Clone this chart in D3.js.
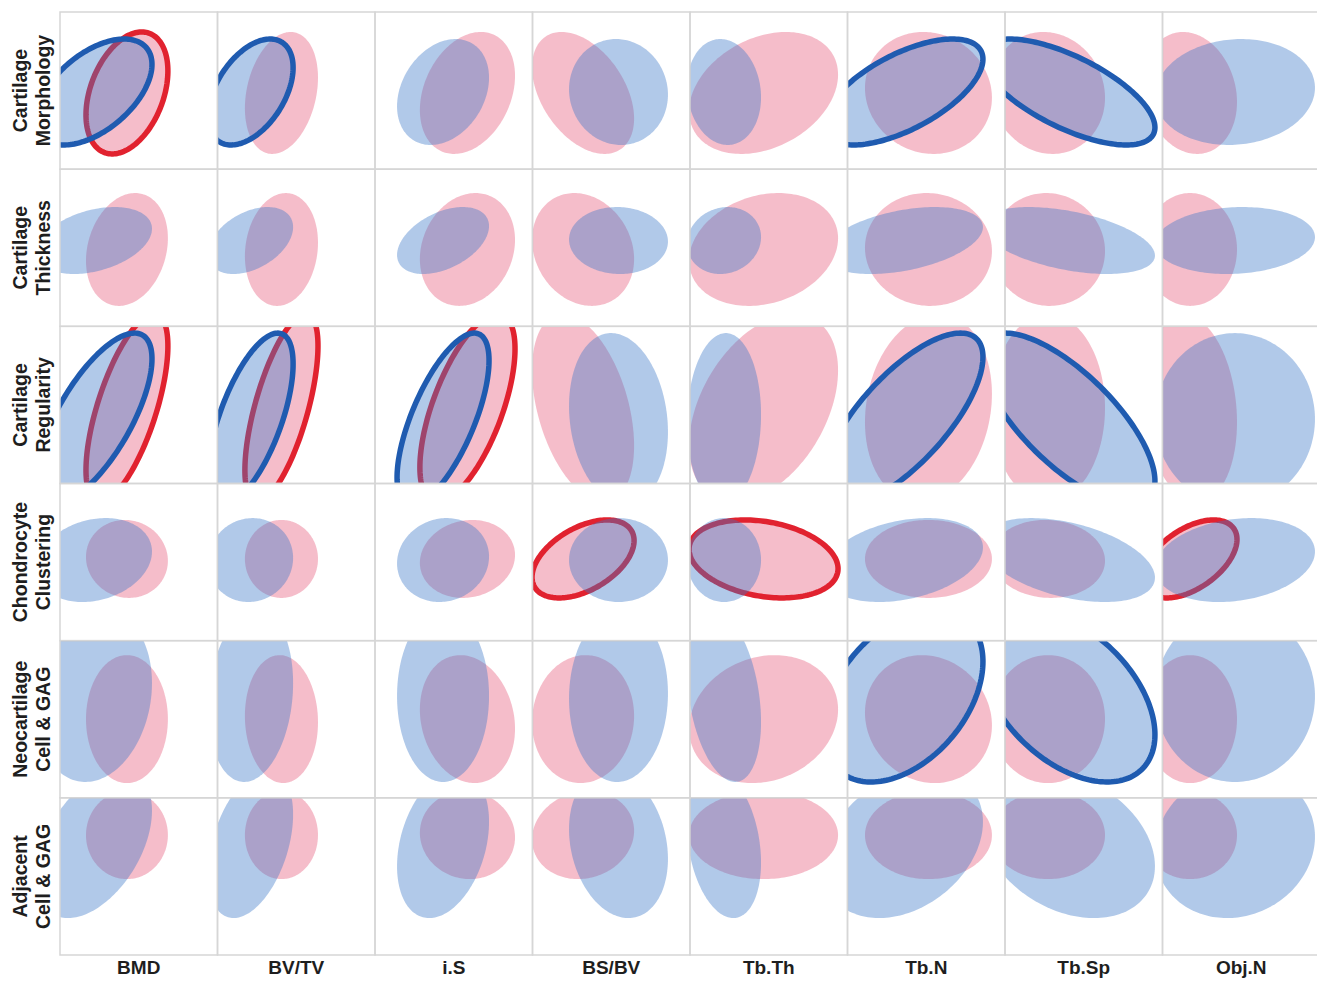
<!DOCTYPE html>
<html>
<head>
<meta charset="utf-8">
<script src="https://cdn.jsdelivr.net/npm/d3@7"></script>
<style>
  body { margin: 0; background: #fff; }
  text { font-family: "Liberation Sans", Arial, sans-serif; font-weight: bold; fill: #1e1e1e; }
</style>
</head>
<body>
<div id="graph"></div>
<script>
// bone parameters (columns) and cartilage measures (rows)
const colNames = ["BMD", "BV/TV", "i.S", "BS/BV", "Tb.Th", "Tb.N", "Tb.Sp", "Obj.N"];
const rowNames = [["Cartilage", "Morphology"], ["Cartilage", "Thickness"], ["Cartilage", "Regularity"],
                  ["Chondrocyte", "Clustering"], ["Neocartilage", "Cell & GAG"], ["Adjacent", "Cell & GAG"]];

// group centre and spread of each bone parameter (normalised 0-1 axis)
const pinkXMean = [0.425, 0.406, 0.587, 0.321, 0.467, 0.514, 0.273, 0.175];
const pinkXSpread = [0.260, 0.232, 0.302, 0.324, 0.473, 0.403, 0.362, 0.298];
const blueXMean = [0.216, 0.210, 0.432, 0.546, 0.216, 0.352, 0.400, 0.460];
const blueXSpread = [0.368, 0.270, 0.292, 0.314, 0.235, 0.508, 0.552, 0.508];

// group centre and spread of each cartilage measure
const pinkYMean = [0.485, 0.489, 0.480, 0.520, 0.501, 0.763];
const pinkYSpread = [0.388, 0.359, 0.598, 0.248, 0.407, 0.280];
const blueYMean = [0.491, 0.546, 0.410, 0.513, 0.648, 0.706];
const blueYSpread = [0.337, 0.213, 0.547, 0.267, 0.547, 0.471];

// correlation of each pair, per group (rows x columns)
const pinkCorr = [
  [0.36, 0.25, 0.28, -0.42, 0.30, -0.08, -0.08, -0.15],
  [0.20, 0.12, 0.17, -0.17, 0.20, -0.03, -0.03, 0.00],
  [0.66, 0.66, 0.63, -0.40, 0.40, 0.15, 0.00, -0.15],
  [-0.05, 0.00, 0.10, 0.47, -0.25, 0.00, -0.05, 0.50],
  [0.00, -0.05, -0.15, 0.05, 0.15, -0.10, 0.00, 0.00],
  [0.00, 0.00, -0.05, 0.10, 0.00, 0.00, 0.00, 0.00]
];
const blueCorr = [
  [0.52, 0.46, 0.27, -0.05, -0.10, 0.62, -0.67, 0.08],
  [0.35, 0.40, 0.43, -0.03, 0.10, 0.40, -0.45, 0.10],
  [0.70, 0.64, 0.68, -0.15, 0.05, 0.72, -0.72, 0.00],
  [0.20, 0.05, 0.08, 0.00, 0.00, 0.30, -0.42, 0.20],
  [0.15, 0.15, 0.00, 0.03, -0.30, 0.40, -0.45, 0.00],
  [0.45, 0.40, 0.30, -0.20, -0.25, 0.30, -0.30, 0.10]
];

// significant correlations (outlined)
const pinkSig = [
  [1, 0, 0, 0, 0, 0, 0, 0],
  [0, 0, 0, 0, 0, 0, 0, 0],
  [1, 1, 1, 0, 0, 0, 0, 0],
  [0, 0, 0, 1, 1, 0, 0, 1],
  [0, 0, 0, 0, 0, 0, 0, 0],
  [0, 0, 0, 0, 0, 0, 0, 0]
];
const blueSig = [
  [1, 1, 0, 0, 0, 1, 1, 0],
  [0, 0, 0, 0, 0, 0, 0, 0],
  [1, 1, 1, 0, 0, 1, 1, 0],
  [0, 0, 0, 0, 0, 0, 0, 0],
  [0, 0, 0, 0, 0, 1, 1, 0],
  [0, 0, 0, 0, 0, 0, 0, 0]
];

const width = 1317, height = 982;
const svg = d3.select("#graph").append("svg")
  .attr("width", width).attr("height", height);

const col = d3.scaleBand().domain(d3.range(colNames.length)).range([60, 1320]);
const row = d3.scaleBand().domain(d3.range(rowNames.length)).range([12, 955]);
const pw = col.bandwidth(), ph = row.bandwidth();

const x = d3.scaleLinear().domain([0, 1]).range([0, pw]);
const y = d3.scaleLinear().domain([0, 1]).range([ph, 0]);

const ts = d3.range(0, 2 * Math.PI, Math.PI / 90);
const line = d3.line().x(d => x(d[0])).y(d => y(d[1])).curve(d3.curveLinearClosed);

function ellipse(mx, sx, my, sy, r) {
  const q = Math.sqrt(1 - r * r);
  return line(ts.map(t => [mx + sx * Math.cos(t), my + sy * (r * Math.cos(t) + q * Math.sin(t))]));
}

const defs = svg.append("defs");
defs.append("clipPath").attr("id", "panelclip")
  .append("rect").attr("width", pw).attr("height", ph);

const cells = [];
rowNames.forEach((rn, i) => colNames.forEach((cn, j) => cells.push({i, j})));

const panel = svg.selectAll("g.panel")
  .data(cells)
  .join("g")
    .attr("class", "panel")
    .attr("transform", d => `translate(${col(d.j)},${row(d.i)})`);

const inner = panel.append("g").attr("clip-path", "url(#panelclip)");

// pink group
inner.append("path")
  .attr("d", d => ellipse(pinkXMean[d.j], pinkXSpread[d.j], pinkYMean[d.i], pinkYSpread[d.i], pinkCorr[d.i][d.j]))
  .attr("fill", "#e44b6e")
  .attr("fill-opacity", 0.37)
  .attr("stroke", d => pinkSig[d.i][d.j] ? "#e1222f" : "none")
  .attr("stroke-width", 5.5);

// blue group
inner.append("path")
  .attr("d", d => ellipse(blueXMean[d.j], blueXSpread[d.j], blueYMean[d.i], blueYSpread[d.i], blueCorr[d.i][d.j]))
  .attr("fill", "#3c78c8")
  .attr("fill-opacity", 0.4)
  .attr("stroke", d => blueSig[d.i][d.j] ? "#1f5bb0" : "none")
  .attr("stroke-width", 5.5);

panel.append("rect")
  .attr("width", pw).attr("height", ph)
  .attr("fill", "none")
  .attr("stroke", "#d6d6d6")
  .attr("stroke-width", 1.5);

// column labels
svg.selectAll("text.col")
  .data(colNames)
  .join("text")
    .attr("class", "col")
    .attr("x", (d, j) => col(j) + pw / 2)
    .attr("y", 974)
    .attr("text-anchor", "middle")
    .style("font-size", "19px")
    .text(d => d);

// row labels
const rl = svg.selectAll("text.row")
  .data(rowNames)
  .join("text")
    .attr("class", "row")
    .attr("transform", (d, i) => `translate(0,${row(i) + ph / 2}) rotate(-90)`)
    .attr("text-anchor", "middle")
    .style("font-size", "19.5px");
rl.append("tspan").attr("x", 0).attr("y", 26.5).text(d => d[0]);
rl.append("tspan").attr("x", 0).attr("y", 49.5).text(d => d[1]);
</script>
</body>
</html>
